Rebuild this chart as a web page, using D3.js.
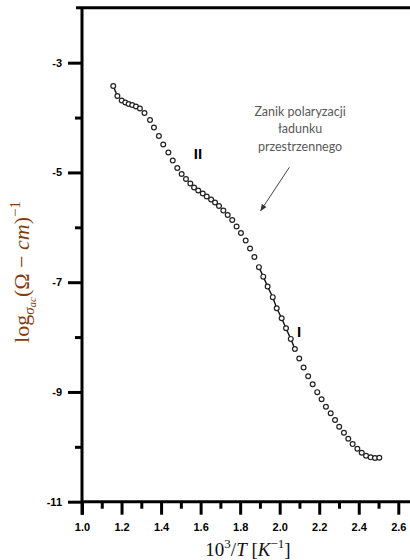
<!DOCTYPE html>
<html>
<head>
<meta charset="utf-8">
<script src="https://cdn.jsdelivr.net/npm/d3@7"></script>
<style>
  body { margin: 0; background: #fff; }
  svg { display: block; }
</style>
</head>
<body>
<div id="chart"></div>
<script>
// 10^3/T values (K^-1)
var invT = [1.158, 1.179, 1.201, 1.219, 1.236, 1.254, 1.273, 1.293, 1.316, 1.344,
  1.364, 1.389, 1.411, 1.437, 1.459, 1.482, 1.504, 1.526, 1.548, 1.567,
  1.588, 1.611, 1.631, 1.653, 1.673, 1.693, 1.715, 1.737, 1.760, 1.782,
  1.804, 1.828, 1.850, 1.872, 1.895, 1.917, 1.939, 1.965, 1.985, 2.010,
  2.032, 2.056, 2.077, 2.099, 2.121, 2.144, 2.167, 2.190, 2.212, 2.234,
  2.258, 2.280, 2.301, 2.325, 2.347, 2.369, 2.393, 2.415, 2.437, 2.460,
  2.482, 2.504];
// log sigma
var logSigma = [-3.425, -3.607, -3.689, -3.725, -3.753, -3.771, -3.798, -3.835, -3.917, -4.044,
  -4.181, -4.336, -4.491, -4.636, -4.782, -4.919, -5.028, -5.119, -5.201, -5.274,
  -5.329, -5.384, -5.438, -5.493, -5.548, -5.611, -5.693, -5.775, -5.867, -5.985,
  -6.103, -6.240, -6.386, -6.541, -6.726, -6.899, -7.079, -7.273, -7.476, -7.658,
  -7.840, -8.033, -8.218, -8.391, -8.554, -8.715, -8.859, -9.004, -9.134, -9.269,
  -9.389, -9.511, -9.633, -9.743, -9.852, -9.950, -10.034, -10.107, -10.162, -10.192,
  -10.204, -10.198];
// index ranges joined by a line
var fitRanges = [[0, 1], [34, 42]];

var xMajorTicks = [1.0, 1.2, 1.4, 1.6, 1.8, 2.0, 2.2, 2.4, 2.6];
var xMinorTicks = [1.1, 1.3, 1.5, 1.7, 1.9, 2.1, 2.3, 2.5];
var yMajorTicks = [-3, -5, -7, -9, -11];
var yMinorTicks = [-4, -6, -8, -10];

var noteLines = ['Zanik polaryzacji', 'ładunku', 'przestrzennego'];
var regionNames = ['II', 'I'];

var vWidth = 410,
  vHeight = 560;

var x = d3.scaleLinear().domain([1.0, 2.6]).range([82, 398.3]);
var y = d3.scaleLinear().domain([-11, -2]).range([501.7, 7.8]);

var svg = d3
  .select('#chart')
  .append('svg')
  .attr('width', vWidth)
  .attr('height', vHeight);

// top frame line
svg.append('line')
  .attr('x1', 76)
  .attr('x2', vWidth)
  .attr('y1', y(-2))
  .attr('y2', y(-2))
  .attr('stroke', '#000')
  .attr('stroke-width', 3);

// minor ticks first, majors on top
svg.append('g')
  .attr('class', 'x-minor')
  .attr('transform', 'translate(0,' + y(-11) + ')')
  .call(d3.axisBottom(x).tickValues(xMinorTicks).tickSize(7).tickFormat(''));

svg.append('g')
  .attr('class', 'x-axis')
  .attr('transform', 'translate(0,' + y(-11) + ')')
  .call(d3.axisBottom(x).tickValues(xMajorTicks).tickSize(13).tickPadding(9).tickFormat(d3.format('.1f')));

svg.append('g')
  .attr('class', 'y-minor')
  .attr('transform', 'translate(' + x(1.0) + ',0)')
  .call(d3.axisLeft(y).tickValues(yMinorTicks).tickSize(7).tickFormat(''));

svg.append('g')
  .attr('class', 'y-axis')
  .attr('transform', 'translate(' + x(1.0) + ',0)')
  .call(d3.axisLeft(y).tickValues(yMajorTicks).tickSize(14).tickPadding(6).tickFormat(function(d) { return d; }));

svg.selectAll('.domain')
  .attr('stroke', '#000')
  .attr('stroke-width', 3);
svg.selectAll('.x-axis .domain').attr('d', 'M' + x(1.0) + ',0H' + vWidth);
svg.selectAll('.y-axis .domain').attr('d', 'M0,' + y(-2) + 'V' + (y(-11) + 13));
svg.selectAll('.x-minor .domain, .y-minor .domain').remove();
svg.selectAll('.tick line')
  .attr('stroke', '#000')
  .attr('stroke-width', 3);
svg.selectAll('.tick text')
  .attr('fill', '#000')
  .style('font-family', '"Liberation Sans", Arial, sans-serif')
  .style('font-weight', '700')
  .style('font-size', '11px');

// fitted segments
var pts = invT.map(function(d, i) { return [d, logSigma[i]]; });
var line = d3.line()
  .x(function(d) { return x(d[0]); })
  .y(function(d) { return y(d[1]); });

svg.selectAll('.fit')
  .data(fitRanges)
  .enter()
  .append('path')
  .attr('class', 'fit')
  .attr('fill', 'none')
  .attr('stroke', '#111')
  .attr('stroke-width', 1.4)
  .attr('d', function(r) { return line(pts.slice(r[0], r[1] + 1)); });

svg.selectAll('.pt')
  .data(pts)
  .enter()
  .append('circle')
  .attr('class', 'pt')
  .attr('cx', function(d) { return x(d[0]); })
  .attr('cy', function(d) { return y(d[1]); })
  .attr('r', 2.4)
  .attr('fill', '#fff')
  .attr('stroke', '#222')
  .attr('stroke-width', 1.2);

// region labels
svg.append('text')
  .attr('x', x(1.587))
  .attr('y', y(-4.664))
  .attr('dy', '0.36em')
  .attr('text-anchor', 'middle')
  .attr('fill', '#000')
  .style('font-family', '"Liberation Sans", Arial, sans-serif')
  .style('font-weight', '700')
  .style('font-size', '15px')
  .text(regionNames[0]);

svg.append('text')
  .attr('x', x(2.098))
  .attr('y', y(-7.908))
  .attr('dy', '0.36em')
  .attr('text-anchor', 'middle')
  .attr('fill', '#000')
  .style('font-family', '"Liberation Sans", Arial, sans-serif')
  .style('font-weight', '700')
  .style('font-size', '15px')
  .text(regionNames[1]);

// annotation
svg.append('defs')
  .append('marker')
  .attr('id', 'arrow')
  .attr('viewBox', '0 0 10 10')
  .attr('refX', 9)
  .attr('refY', 5)
  .attr('markerWidth', 7)
  .attr('markerHeight', 7)
  .attr('orient', 'auto')
  .append('path')
  .attr('d', 'M0,1L10,5L0,9Z')
  .attr('fill', '#333');

svg.append('line')
  .attr('x1', x(2.049))
  .attr('y1', y(-4.906))
  .attr('x2', x(1.904))
  .attr('y2', y(-5.697))
  .attr('stroke', '#444')
  .attr('stroke-width', 1)
  .attr('marker-end', 'url(#arrow)');

svg.append('text')
  .attr('x', x(2.103))
  .attr('y', 115.5)
  .attr('text-anchor', 'middle')
  .style('font-family', 'Lato, "Open Sans", sans-serif')
  .style('font-size', '12.5px')
  .attr('fill', '#595959')
  .selectAll('tspan')
  .data(noteLines)
  .enter()
  .append('tspan')
  .attr('x', x(2.103))
  .attr('dy', function(d, i) { return i === 0 ? 0 : 17.5; })
  .text(function(d) { return d; });

// axis titles
var xTitle = svg.append('text')
  .attr('x', 248)
  .attr('y', 556)
  .attr('text-anchor', 'middle')
  .style('font-family', '"Liberation Serif", "DejaVu Serif", serif')
  .style('font-size', '19px')
  .attr('fill', '#111');
xTitle.append('tspan').text('10');
xTitle.append('tspan').attr('dy', -8).style('font-size', '13px').text('3');
xTitle.append('tspan').attr('dy', 8).text('/');
xTitle.append('tspan').style('font-style', 'italic').text('T');
xTitle.append('tspan').text(' [');
xTitle.append('tspan').style('font-style', 'italic').text('K');
xTitle.append('tspan').attr('dy', -8).style('font-size', '13px').text('\u22121');
xTitle.append('tspan').attr('dy', 8).text(']');

var yTitle = svg.append('text')
  .attr('transform', 'translate(29,272) rotate(-90)')
  .attr('text-anchor', 'middle')
  .style('font-family', '"Liberation Serif", "DejaVu Serif", serif')
  .style('font-size', '22px')
  .attr('fill', '#843c0c');
yTitle.append('tspan').text('log');
yTitle.append('tspan').attr('dy', 5).style('font-style', 'italic').style('font-size', '15px').text('\u03c3');
yTitle.append('tspan').attr('dy', 2).style('font-style', 'italic').style('font-size', '11px').text('ac');
yTitle.append('tspan').attr('dy', -7).text('(\u03a9 \u2212 ');
yTitle.append('tspan').style('font-style', 'italic').text('cm');
yTitle.append('tspan').text(')');
yTitle.append('tspan').attr('dy', -9).style('font-size', '15px').text('\u22121');
</script>
</body>
</html>
